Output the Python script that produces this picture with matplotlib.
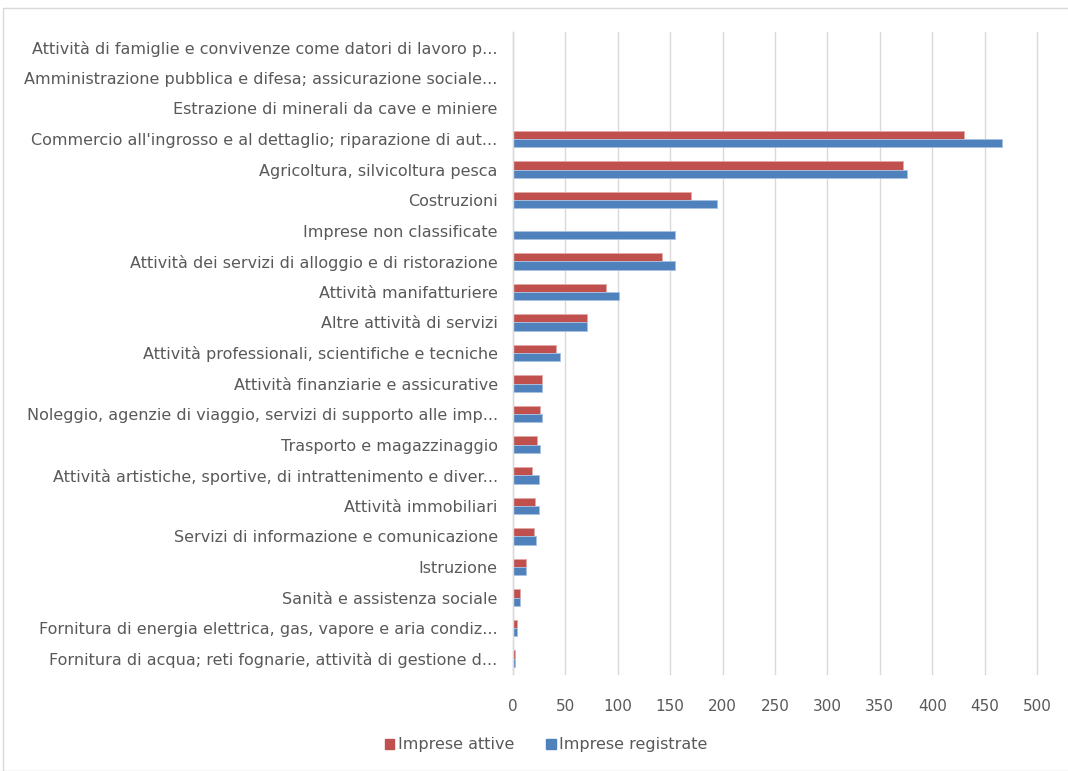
import matplotlib
matplotlib.use("Agg")
import matplotlib.pyplot as plt
from matplotlib.patches import Rectangle, Patch
import numpy as np

plt.rcParams['font.family'] = ['DejaVu Sans']

categories = [
    "Attività di famiglie e convivenze come datori di lavoro p...",
    "Amministrazione pubblica e difesa; assicurazione sociale...",
    "Estrazione di minerali da cave e miniere",
    "Commercio all'ingrosso e al dettaglio; riparazione di aut...",
    "Agricoltura, silvicoltura pesca",
    "Costruzioni",
    "Imprese non classificate",
    "Attività dei servizi di alloggio e di ristorazione",
    "Attività manifatturiere",
    "Altre attività di servizi",
    "Attività professionali, scientifiche e tecniche",
    "Attività finanziarie e assicurative",
    "Noleggio, agenzie di viaggio, servizi di supporto alle imp...",
    "Trasporto e magazzinaggio",
    "Attività artistiche, sportive, di intrattenimento e diver...",
    "Attività immobiliari",
    "Servizi di informazione e comunicazione",
    "Istruzione",
    "Sanità e assistenza sociale",
    "Fornitura di energia elettrica, gas, vapore e aria condiz...",
    "Fornitura di acqua; reti fognarie, attività di gestione d...",
]
imprese_attive = [0, 0, 0, 430, 372, 170, 0, 142, 89, 71, 41, 28, 26, 23, 18, 21, 20, 12, 7, 4, 2]
imprese_registrate = [0, 0, 0, 467, 376, 195, 155, 155, 101, 71, 45, 28, 28, 26, 25, 25, 22, 12, 7, 4, 2]
xticks = [0, 50, 100, 150, 200, 250, 300, 350, 400, 450, 500]

red = "#C0504D"
blue = "#4F81BD"
txt = "#595959"

fig = plt.figure(figsize=(10.68, 7.71), dpi=100)
fig.patches.append(Rectangle((3/1068, 0), 1.0, 1 - 8/771, transform=fig.transFigure,
                             fill=False, edgecolor="#D9D9D9", linewidth=1.0))
ax = fig.add_axes([513/1068, 1 - 674/771, (1037 - 513)/1068, (674 - 32)/771])

y = np.arange(len(categories))
h = 0.27
ax.barh(y - h/2, imprese_attive, height=h, color=red, edgecolor="#E3A9A7", linewidth=0.6, zorder=3)
ax.barh(y + h/2, imprese_registrate, height=h, color=blue, edgecolor="#A9C1E0", linewidth=0.6, zorder=3)

ax.set_ylim(len(categories) - 0.5, -0.5)
ax.set_xlim(0, 500)
ax.set_yticks(y)
ax.set_yticklabels(categories)
ax.set_xticks(xticks)
ax.set_xticklabels([str(v) for v in xticks])
ax.tick_params(axis='y', length=0, pad=11, labelsize=11.5, labelcolor=txt)
ax.tick_params(axis='x', length=0, pad=18, labelsize=11, labelcolor=txt)
ax.grid(axis='x', color="#D9D9D9", linewidth=1.0, zorder=0)
for gl in ax.get_xgridlines():
    gl.set_clip_on(False)
for s in ['top', 'right', 'bottom']:
    ax.spines[s].set_visible(False)
ax.spines['left'].set_color("#D9D9D9")
ax.spines['left'].set_linewidth(1.0)
ax.spines['left'].set_zorder(4)

handles = [Patch(color=red, label="Imprese attive"), Patch(color=blue, label="Imprese registrate")]
fig.legend(handles=handles, loc='center', bbox_to_anchor=(546/1068, 1 - 745/771), ncol=2,
           frameon=False, fontsize=11.5, handlelength=0.6, handleheight=0.6, handletextpad=0.2,
           columnspacing=2.0, labelcolor=txt)

fig.savefig("out.png", dpi=100)
